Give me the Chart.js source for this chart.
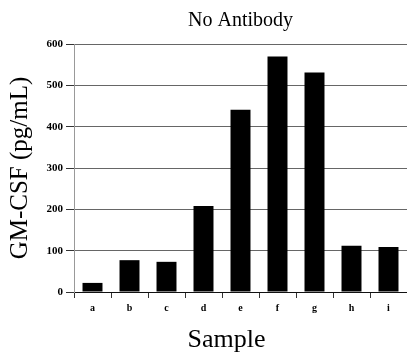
<!DOCTYPE html>
<html>
<head>
<meta charset="utf-8">
<script src="https://cdn.jsdelivr.net/npm/chart.js@4"></script>
<style>
html,body{margin:0;padding:0;background:#fff;}
#wrap{width:407px;height:356px;position:relative;}
</style>
</head>
<body>
<div id="wrap"><canvas id="c" width="407" height="356"></canvas></div>
<script>
const categories = ['a','b','c','d','e','f','g','h','i'];
const values = [22, 77, 73, 208, 441, 570, 531, 112, 109];
const yTicks = [0, 100, 200, 300, 400, 500, 600];
const chartTitle = 'No Antibody';
const yTitle = 'GM-CSF (pg/mL)';
const xTitle = 'Sample';

const serif = '"Liberation Serif", "DejaVu Serif", serif';

const xTitlePlugin = {
  id: 'xTitlePlugin',
  afterDraw(chart) {
    const ctx = chart.ctx;
    const xs = chart.scales.x;
    ctx.save();
    ctx.font = '26px ' + serif;
    ctx.fillStyle = '#000';
    ctx.textAlign = 'center';
    ctx.textBaseline = 'middle';
    ctx.fillText(xTitle, (xs.left + xs.right) / 2 - 14, xs.bottom - 16);
    ctx.restore();
  }
};

new Chart(document.getElementById('c'), {
  type: 'bar',
  data: {
    labels: categories,
    datasets: [{
      data: values,
      backgroundColor: '#000',
      borderWidth: 0,
      categoryPercentage: 1.0,
      barPercentage: 0.54
    }]
  },
  options: {
    responsive: false,
    animation: false,
    devicePixelRatio: 1,
    layout: { padding: { left: 0, right: 0, top: 0, bottom: 0 } },
    plugins: {
      legend: { display: false },
      tooltip: { enabled: false },
      title: {
        display: true,
        text: chartTitle,
        fullSize: false,
        color: '#000',
        font: { family: serif, size: 20, weight: 'normal', lineHeight: 1.2 },
        padding: { top: 9, bottom: 11 }
      }
    },
    scales: {
      x: {
        grid: { display: true, drawOnChartArea: false, offset: true, tickLength: 6, color: '#333', tickColor: '#333' },
        border: { display: true, color: '#111', width: 1 },
        ticks: { color: '#000', padding: 4, font: { family: serif, size: 10, weight: 'bold' }, maxRotation: 0 },
        afterFit(scale) { scale.height = 64; }
      },
      y: {
        min: 0,
        max: 600,
        afterBuildTicks(scale) { scale.ticks = yTicks.map(v => ({ value: v })); },
        grid: { color: '#666', lineWidth: 1, tickLength: 8, tickColor: '#333' },
        border: { display: true, color: '#999', width: 1 },
        ticks: { color: '#000', padding: 3, font: { family: serif, size: 11, weight: 'bold' } },
        title: {
          display: true,
          text: yTitle,
          color: '#000',
          font: { family: serif, size: 25, weight: 'normal', lineHeight: 1.2 },
          padding: { top: 5, bottom: 0 }
        },
        afterFit(scale) { scale.width = 74; }
      }
    }
  },
  plugins: [xTitlePlugin]
});
</script>
</body>
</html>
